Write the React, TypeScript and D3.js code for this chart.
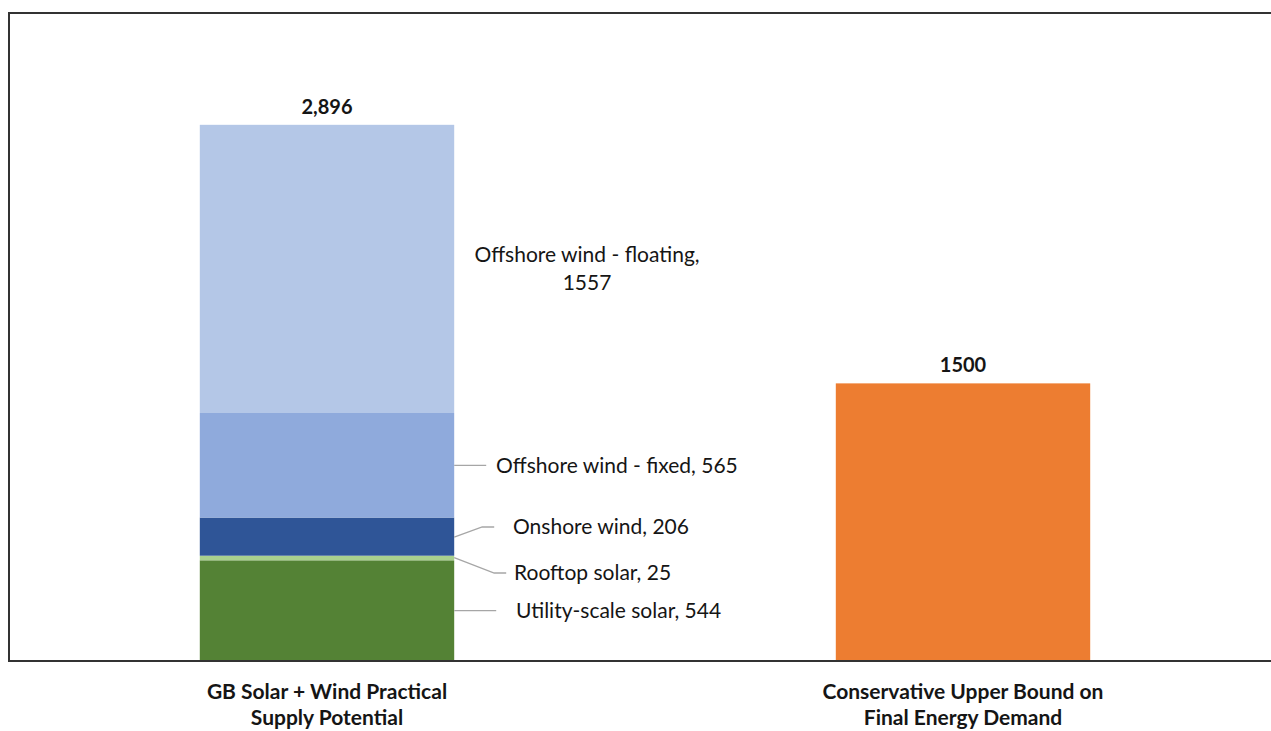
import React from "react";
import * as d3 from "d3";

const categories = ["GB Solar + Wind Practical\nSupply Potential", "Conservative Upper Bound on\nFinal Energy Demand"];
const segmentNames = ["Utility-scale solar", "Rooftop solar", "Onshore wind", "Offshore wind - fixed", "Offshore wind - floating"];
const segmentValues = [544, 25, 206, 565, 1557];
const segmentColors = ["#548235", "#a9d18e", "#2f5597", "#8faadc", "#b4c7e7"];
const totalLabel = "2,896";
const totalValue = 2896;
const demandValue = 1500;
const demandLabel = "1500";
const demandColor = "#ed7d31";

const W = 1271, H = 731;
const FONT = "Lato, 'Open Sans', sans-serif";
const TXT = "#151515";

export default function App() {
  const x = d3.scaleBand<string>().domain(categories).range([9, 1281]).paddingInner(0.6).paddingOuter(0.3);
  const y = d3.scaleLinear().domain([0, totalValue]).range([661, 125]);
  const bw = x.bandwidth();
  const x0 = x(categories[0])!;
  const x1 = x(categories[1])!;
  const c0 = x0 + bw / 2;
  const c1 = x1 + bw / 2;

  const stackData = [Object.fromEntries(segmentNames.map((n, i) => [n, segmentValues[i]]))];
  const series = d3.stack<any>().keys(segmentNames)(stackData);

  const right = x0 + bw;
  const mid = (i: number) => (y(series[i][0][0]) + y(series[i][0][1])) / 2;
  const leaders: { pts: [number, number][]; tx: number; ty: number; text: string }[] = [
    { pts: [[right, mid(0)], [right + 42, mid(0)]], tx: 516, ty: mid(0), text: `${segmentNames[0]}, ${segmentValues[0]}` },
    { pts: [[right, y(series[1][0][1]) + 2], [right + 40, 573], [right + 52, 573]], tx: 514, ty: 573, text: `${segmentNames[1]}, ${segmentValues[1]}` },
    { pts: [[right, mid(2) + 0.5], [right + 28, 527], [right + 40, 527]], tx: 513, ty: 527, text: `${segmentNames[2]}, ${segmentValues[2]}` },
    { pts: [[right, mid(3)], [right + 32, mid(3)]], tx: 496, ty: mid(3), text: `${segmentNames[3]}, ${segmentValues[3]}` },
  ];

  const line = d3.line();

  return (
    <svg width={W} height={H} style={{ position: "absolute", left: 0, top: 0, background: "#fff" }} fontFamily={FONT}>
      <rect x={0} y={0} width={W} height={H} fill="#fff" />
      <rect x={9} y={13} width={1300} height={648} fill="none" stroke="#333" strokeWidth={2} />
      {series.map((s, i) => (
        <rect key={i} x={x0} width={bw} y={y(s[0][1])} height={y(s[0][0]) - y(s[0][1])} fill={segmentColors[i]} />
      ))}
      <rect x={x1} width={bw} y={y(demandValue)} height={y(0) - y(demandValue)} fill={demandColor} />
      <line x1={9} x2={W} y1={661} y2={661} stroke="#333" strokeWidth={2} />
      {leaders.map((l, i) => (
        <g key={i}>
          <path d={line(l.pts)!} fill="none" stroke="#a6a6a6" strokeWidth={1.3} />
          <text x={l.tx} y={l.ty} dy="0.35em" fontSize={21} fill={TXT}>{l.text}</text>
        </g>
      ))}
      <text x={587} y={mid(4) - 14} dy="0.35em" fontSize={21} fill={TXT} textAnchor="middle">{segmentNames[4] + ","}</text>
      <text x={587} y={mid(4) + 14} dy="0.35em" fontSize={21} fill={TXT} textAnchor="middle">{segmentValues[4]}</text>
      <text x={c0} y={y(totalValue) - 11} fontSize={20} fontWeight="bold" textAnchor="middle" fill={TXT}>{totalLabel}</text>
      <text x={c1} y={y(demandValue) - 11} fontSize={20} fontWeight="bold" textAnchor="middle" fill={TXT}>{demandLabel}</text>
      {categories.map((c, i) => {
        const cx = x(c)! + bw / 2;
        return c.split("\n").map((ln, j) => (
          <text key={`${i}-${j}`} x={cx} y={692 + j * 26} dy="0.35em" fontSize={21} fontWeight="bold" textAnchor="middle" fill={TXT}>{ln}</text>
        ));
      })}
    </svg>
  );
}
